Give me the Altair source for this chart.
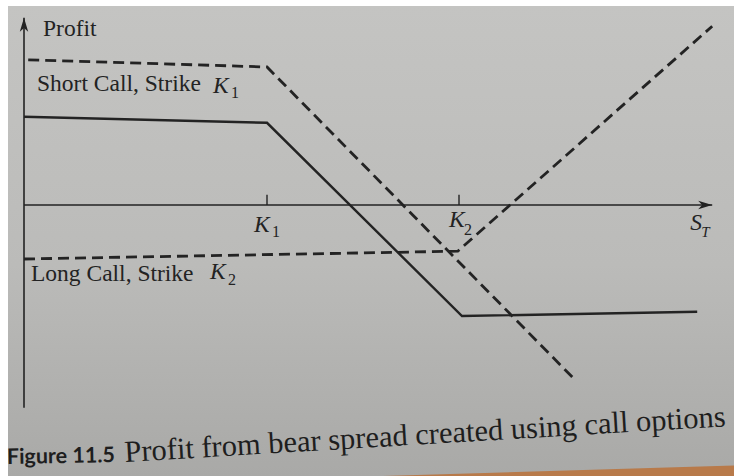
import altair as alt
import pandas as pd

# Strike prices on the S_T axis
K1 = 40.5
K2 = 72.5

# Piecewise-linear profit profiles: vertices (S_T, profit)
short_call_st = [0.7, 40.5, 91.5]
short_call_profit = [24.2, 23.0, -28.8]
long_call_st = [0.0, 72.3, 114.7]
long_call_profit = [-9.0, -7.7, 29.8]
spread_st = [0.0, 40.5, 73.0, 112.2]
spread_profit = [14.7, 13.7, -18.5, -17.8]

# Extent of the hand-drawn axes
st_axis_end = 114.7
profit_axis_top = 31.2
profit_axis_bottom = -33.8

strike_values = [K1, K2]
strike_subscripts = ["1", "2"]

caption_label = "Figure 11.5"
caption_text = "Profit from bear spread created using call options"

INK = "#232323"
SERIF = "Liberation Serif"

W, H = 734, 476
x_scale = alt.Scale(domain=[-4.0, 118.333], nice=False, zero=False)
y_scale = alt.Scale(domain=[-45.1667, 34.1667], nice=False, zero=False)


def xq(field):
    return alt.X(f"{field}:Q", scale=x_scale, axis=None)


def yq(field):
    return alt.Y(f"{field}:Q", scale=y_scale, axis=None)


def curve(st, profit):
    return pd.DataFrame({"st": st, "profit": profit, "i": range(len(st))})


one = pd.DataFrame({"k": [0]})

# paper background with a soft vertical shading
paper = alt.Chart(one).mark_rect(
    color=alt.LinearGradient(
        gradient="linear",
        stops=[alt.GradientStop(color="#c4c4c2", offset=0),
               alt.GradientStop(color="#bbbbb9", offset=0.55),
               alt.GradientStop(color="#a9a9a7", offset=1)],
        x1=0, x2=0, y1=0, y2=1,
    )
).encode(x=alt.value(8), x2=alt.value(W), y=alt.value(6), y2=alt.value(H))

# table edge visible under the page corner
table_edge = alt.Chart(one).mark_point(
    shape="M0,0 L-1,0 L0,-0.03 Z", filled=True, size=492804,
    color="#b87a4a", opacity=1, strokeWidth=0,
).encode(x=alt.value(W), y=alt.value(H))

# axes
x_axis = alt.Chart(pd.DataFrame({"a": [0.0], "b": [st_axis_end], "p": [0.0]})).mark_rule(
    color=INK, strokeWidth=1.6
).encode(x=xq("a"), x2="b:Q", y=yq("p"))
y_axis = alt.Chart(pd.DataFrame({"s": [0.0], "a": [profit_axis_bottom], "b": [profit_axis_top]})).mark_rule(
    color=INK, strokeWidth=1.6
).encode(x=xq("s"), y=yq("a"), y2="b:Q")

arrow_right = alt.Chart(pd.DataFrame({"st": [st_axis_end], "profit": [0.0]})).mark_point(
    shape="M0,0 L-1,-0.3 L-0.72,0 L-1,0.3 Z", filled=True, size=784, color=INK, opacity=1, strokeWidth=0
).encode(x=xq("st"), y=yq("profit"))
arrow_up = alt.Chart(pd.DataFrame({"st": [0.0], "profit": [profit_axis_top]})).mark_point(
    shape="M0,0 L-0.3,1 L0,0.72 L0.3,1 Z", filled=True, size=784, color=INK, opacity=1, strokeWidth=0
).encode(x=xq("st"), y=yq("profit"))

strikes = pd.DataFrame({"st": strike_values, "p0": [0.0, 0.0], "p1": [1.7, 1.7], "sub": strike_subscripts})
ticks = alt.Chart(strikes).mark_rule(color=INK, strokeWidth=1.4).encode(
    x=xq("st"), y=yq("p0"), y2="p1:Q"
)

# payoff curves
short_line = alt.Chart(curve(short_call_st, short_call_profit)).mark_line(
    color=INK, strokeWidth=2.8, strokeDash=[11, 6], strokeCap="butt"
).encode(x=xq("st"), y=yq("profit"), order="i:Q")
long_line = alt.Chart(curve(long_call_st, long_call_profit)).mark_line(
    color=INK, strokeWidth=2.8, strokeDash=[11, 6], strokeCap="butt"
).encode(x=xq("st"), y=yq("profit"), order="i:Q")
spread_line = alt.Chart(curve(spread_st, spread_profit)).mark_line(
    color=INK, strokeWidth=2.4, strokeJoin="miter"
).encode(x=xq("st"), y=yq("profit"), order="i:Q")


def label(st, profit, text, dx, dy, size=23.5, style="normal"):
    return alt.Chart(pd.DataFrame({"st": [st], "profit": [profit], "t": [text]})).mark_text(
        font=SERIF, fontSize=size, fontStyle=style, color=INK, align="left",
        baseline="alphabetic", dx=dx, dy=dy,
    ).encode(x=xq("st"), y=yq("profit"), text="t:N")


labels = [
    label(0.0, profit_axis_top, "Profit", 19, 18, 23.5),
    label(0.0, short_call_profit[0], "Short Call, Strike", 13, 31),
    label(0.0, short_call_profit[0], "K", 189, 33, 23.5, "italic"),
    label(0.0, short_call_profit[0], "1", 207, 38, 16),
    label(0.0, long_call_profit[0], "Long Call, Strike", 7, 22),
    label(0.0, long_call_profit[0], "K", 186, 20, 23.5, "italic"),
    label(0.0, long_call_profit[0], "2", 204, 26, 16),
    label(K1, 0.0, "K", -13, 27, 23.5, "italic"),
    label(K1, 0.0, strike_subscripts[0], 5, 32, 16),
    label(K2, 0.0, "K", -10, 22, 23.5, "italic"),
    label(K2, 0.0, strike_subscripts[1], 5, 30, 16),
    label(st_axis_end, 0.0, "S", -22, 25, 23.5, "italic"),
    label(st_axis_end, 0.0, "T", -11, 32, 15, "italic"),
]

caption_a = alt.Chart(one).mark_text(
    font="Lato", fontWeight="bold", fontSize=21.5, color="#1e1e1e",
    align="left", baseline="alphabetic", angle=359,
).encode(x=alt.value(7), y=alt.value(464), text=alt.value(caption_label))
caption_b = alt.Chart(one).mark_text(
    font=SERIF, fontSize=30.5, color="#1e1e1e",
    align="left", baseline="alphabetic", angle=356.6,
).encode(x=alt.value(125), y=alt.value(462), text=alt.value(caption_text))

chart = alt.layer(
    paper, table_edge, x_axis, y_axis, arrow_right, arrow_up, ticks,
    short_line, long_line, spread_line, *labels, caption_a, caption_b,
).properties(
    width=W, height=H, padding=0, autosize=alt.AutoSizeParams(type="none"), background="white"
).configure_view(stroke=None)

chart.save("out.html", embed_options={"renderer": "svg", "actions": False})
